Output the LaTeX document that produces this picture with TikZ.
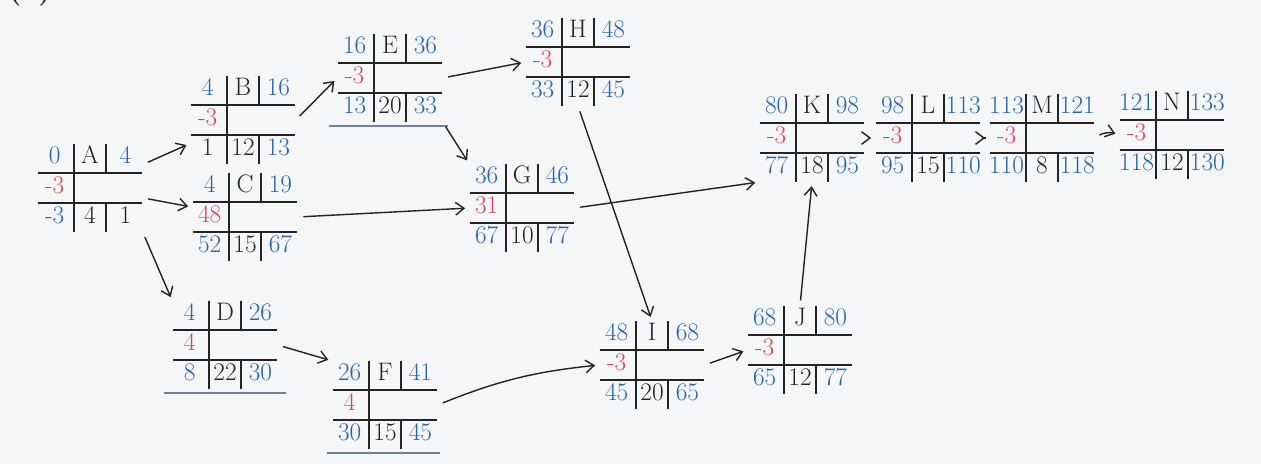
\documentclass[tikz,border=0pt]{standalone}
\usepackage{array}
\usetikzlibrary{arrows.meta}
\definecolor{penblue}{RGB}{40,100,170}
\definecolor{penred}{RGB}{215,70,90}
\definecolor{penblack}{RGB}{35,35,35}
\definecolor{paper}{RGB}{245,246,247}
\definecolor{rulegray}{RGB}{110,130,150}
\setlength{\tabcolsep}{1pt}
\setlength{\arrayrulewidth}{1.1pt}
\newcommand{\es}[1]{\textcolor{penblue}{#1}}
\newcommand{\slack}[1]{\textcolor{penred}{#1}}
% ES | name | EF / slack / LS | dur | LF
\newcommand{\actgrid}[7]{%
  \begin{tabular}{@{}w{c}{0.85cm}|w{c}{0.7cm}|w{c}{0.85cm}@{}}
  \es{#1} & #2 & \es{#3}\\ \hline
  \slack{#4} & \multicolumn{2}{c}{} \\ \hline
  \es{#5} & #6 & \es{#7}
  \end{tabular}}

\begin{document}
\begin{tikzpicture}[
    x={(0.025cm,0)}, y={(0,-0.025cm)},
    act/.style={inner sep=0pt, font=\fontsize{18}{20}\selectfont, text=penblack},
    a/.style={-{Straight Barb[length=6pt, width=9pt]}, line width=1pt, penblack, shorten >=3pt, shorten <=4pt},
    ul/.style={rulegray, line width=1.3pt}
]
\useasboundingbox (0,0) rectangle (1261,464);
\fill[paper] (0,0) rectangle (1261,464);
\node[font=\bfseries\fontsize{22}{24}\selectfont, text=penblack] (tag) at (30,-9) {(a)};

\node[act] (A) at (90,188)   {\actgrid{0}{A}{4}{-3}{-3}{4}{{\color{penblack}1}}};
\node[act] (B) at (243,120)  {\actgrid{4}{B}{16}{-3}{{\color{penblack}1}}{12}{13}};
\node[act] (C) at (245,217)  {\actgrid{4}{C}{19}{48}{52}{15}{67}};
\node[act] (D) at (225,345)  {\actgrid{4}{D}{26}{4}{8}{22}{30}};
\node[act] (E) at (390,78)   {\actgrid{16}{E}{36}{-3}{13}{20}{33}};
\node[act] (H) at (578,62)   {\actgrid{36}{H}{48}{-3}{33}{12}{45}};
\node[act] (G) at (522,208)  {\actgrid{36}{G}{46}{31}{67}{10}{77}};
\node[act] (F) at (385,405)  {\actgrid{26}{F}{41}{4}{30}{15}{45}};
\node[act] (I) at (652,365)  {\actgrid{48}{I}{68}{-3}{45}{20}{65}};
\node[act] (J) at (800,350)  {\actgrid{68}{J}{80}{-3}{65}{12}{77}};
\node[act] (K) at (812,138)  {\actgrid{80}{K}{98}{-3}{77}{18}{95}};
\node[act] (L) at (928,138)  {\actgrid{98}{L}{113}{-3}{95}{15}{110}};
\node[act] (M) at (1042,138) {\actgrid{113}{M}{121}{-3}{110}{8}{118}};
\node[act] (N) at (1172,135) {\actgrid{121}{N}{133}{-3}{118}{12}{130}};

% extra strokes under some boxes
\draw[ul] ([xshift=-6pt, yshift=-3pt]D.south west) -- ([xshift=6pt, yshift=-3pt]D.south east);
\draw[ul] ([xshift=-6pt, yshift=-3pt]E.south west) -- ([xshift=4pt, yshift=-3pt]E.south east);
\draw[ul] ([xshift=-4pt, yshift=-3pt]F.south west) -- ([xshift=2pt, yshift=-3pt]F.south east);

\draw[a] (A) -- (B);
\draw[a] (A) -- (C);
\draw[a] (A.south east) -- (D.north west);
\draw[a] (B.east) -- (E.west);
\draw[a] (E.east) -- (H.west);
\draw[a] (E.south east) -- (G.north west);
\draw[a] (C.east) -- (G.west);
\draw[a] (D.east) -- (F.north west);
\draw[a] (G.east) -- (K.south west);
\draw[a] (H.south) -- (I.north);
\draw[a] (F.east) to[bend left=8] (I.west);
\draw[a] (I.east) -- (J.west);
\draw[a] (J.north) -- (K.south);
\draw[a] (K.east) -- (L.west);
\draw[a] (L.east) -- (M.west);
\draw[a] (M.east) to[bend left=25] (N.west);
\end{tikzpicture}
\end{document}
